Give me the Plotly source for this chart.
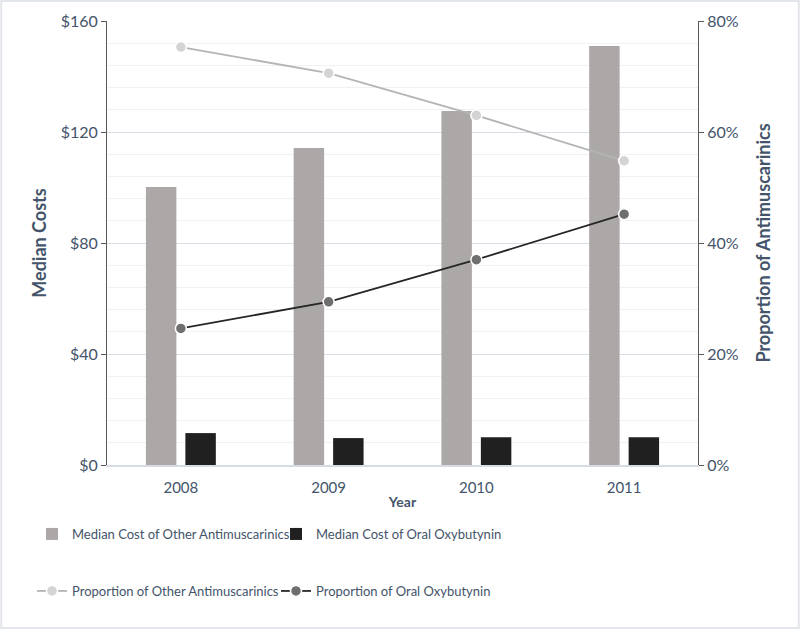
import plotly.graph_objects as go

years = ["2008", "2009", "2010", "2011"]
cost_other = [100.2, 114.2, 127.6, 151.0]
cost_oxy = [11.5, 9.7, 10.0, 10.0]
prop_other = [75.3, 70.6, 63.0, 54.8]
prop_oxy = [24.6, 29.4, 37.0, 45.2]

txt = "#44546a"
font = "Lato"

fig = go.Figure()
fig.add_trace(go.Bar(x=years, y=cost_other, name="Median Cost of Other Antimuscarinics",
                     marker=dict(color="#aca8a7", line=dict(width=0)), legend="legend"))
fig.add_trace(go.Bar(x=years, y=cost_oxy, name="Median Cost of Oral Oxybutynin",
                     marker=dict(color="#202020", line=dict(width=0)), legend="legend"))
fig.add_trace(go.Scatter(x=years, y=prop_other, yaxis="y2", mode="lines+markers",
                         name="Proportion of Other Antimuscarinics",
                         line=dict(color="#b4b4b4", width=1.8),
                         marker=dict(color="#d4d4d4", size=11, line=dict(color="white", width=1.5)),
                         legend="legend2"))
fig.add_trace(go.Scatter(x=years, y=prop_oxy, yaxis="y2", mode="lines+markers",
                         name="Proportion of Oral Oxybutynin",
                         line=dict(color="#262626", width=1.8),
                         marker=dict(color="#6f6f6f", size=11, line=dict(color="white", width=1.5)),
                         legend="legend2"))

pw, ph = 591, 444
fig.update_layout(
    width=800, height=629,
    margin=dict(l=107, r=102, t=21, b=164, autoexpand=False),
    paper_bgcolor="white", plot_bgcolor="white",
    font=dict(family=font, color=txt, size=13),
    barmode="group", bargap=0.466, bargroupgap=0.228,
    xaxis=dict(showline=True, linecolor="#d6dbe5", linewidth=1.5, ticks="outside",
               ticklen=8, tickcolor="rgba(0,0,0,0)",
               tickfont=dict(size=15, color=txt),
               title=dict(text="<b>Year</b>", font=dict(size=14, color=txt), standoff=2)),
    yaxis=dict(range=[0, 160], dtick=40, tickprefix="$", showline=True, linecolor="#595959",
               linewidth=1, ticks="outside", ticklen=5, tickcolor="#595959",
               gridcolor="#d9dde6", gridwidth=1, zeroline=False,
               minor=dict(dtick=8, showgrid=True, gridcolor="#f1f1f1", gridwidth=1),
               tickfont=dict(size=16, color=txt),
               title=dict(text="<b>Median Costs</b>", font=dict(size=18, color=txt), standoff=9)),
    yaxis2=dict(range=[0, 80], dtick=20, ticksuffix="%", overlaying="y", side="right",
                showline=True, linecolor="#595959", linewidth=1, ticks="outside", ticklen=5,
                tickcolor="#595959", showgrid=False, zeroline=False,
                tickfont=dict(size=16, color=txt),
                title=dict(text="<b>Proportion of Antimuscarinics</b>", font=dict(size=18, color=txt), standoff=19)),
    legend=dict(orientation="h", x=-75/pw, xanchor="left", y=-54/ph, yanchor="top",
                font=dict(size=13, color=txt), entrywidth=199, traceorder="normal",
                bgcolor="rgba(0,0,0,0)"),
    legend2=dict(orientation="h", x=-75/pw, xanchor="left", y=-111/ph, yanchor="top",
                 font=dict(size=13, color=txt), entrywidth=199, traceorder="normal",
                 bgcolor="rgba(0,0,0,0)"),
    shapes=[dict(type="rect", xref="paper", yref="paper",
                 x0=-107/pw + 0.002, x1=1 + 102/pw - 0.002,
                 y0=-164/ph + 0.002, y1=1 + 21/ph - 0.002,
                 line=dict(color="#e3e6ea", width=2), fillcolor="rgba(0,0,0,0)", layer="below")],
)

fig.write_html("out.html", config={"displayModeBar": False},
               post_script="document.body.style.margin='0';document.body.style.overflow='hidden';")
